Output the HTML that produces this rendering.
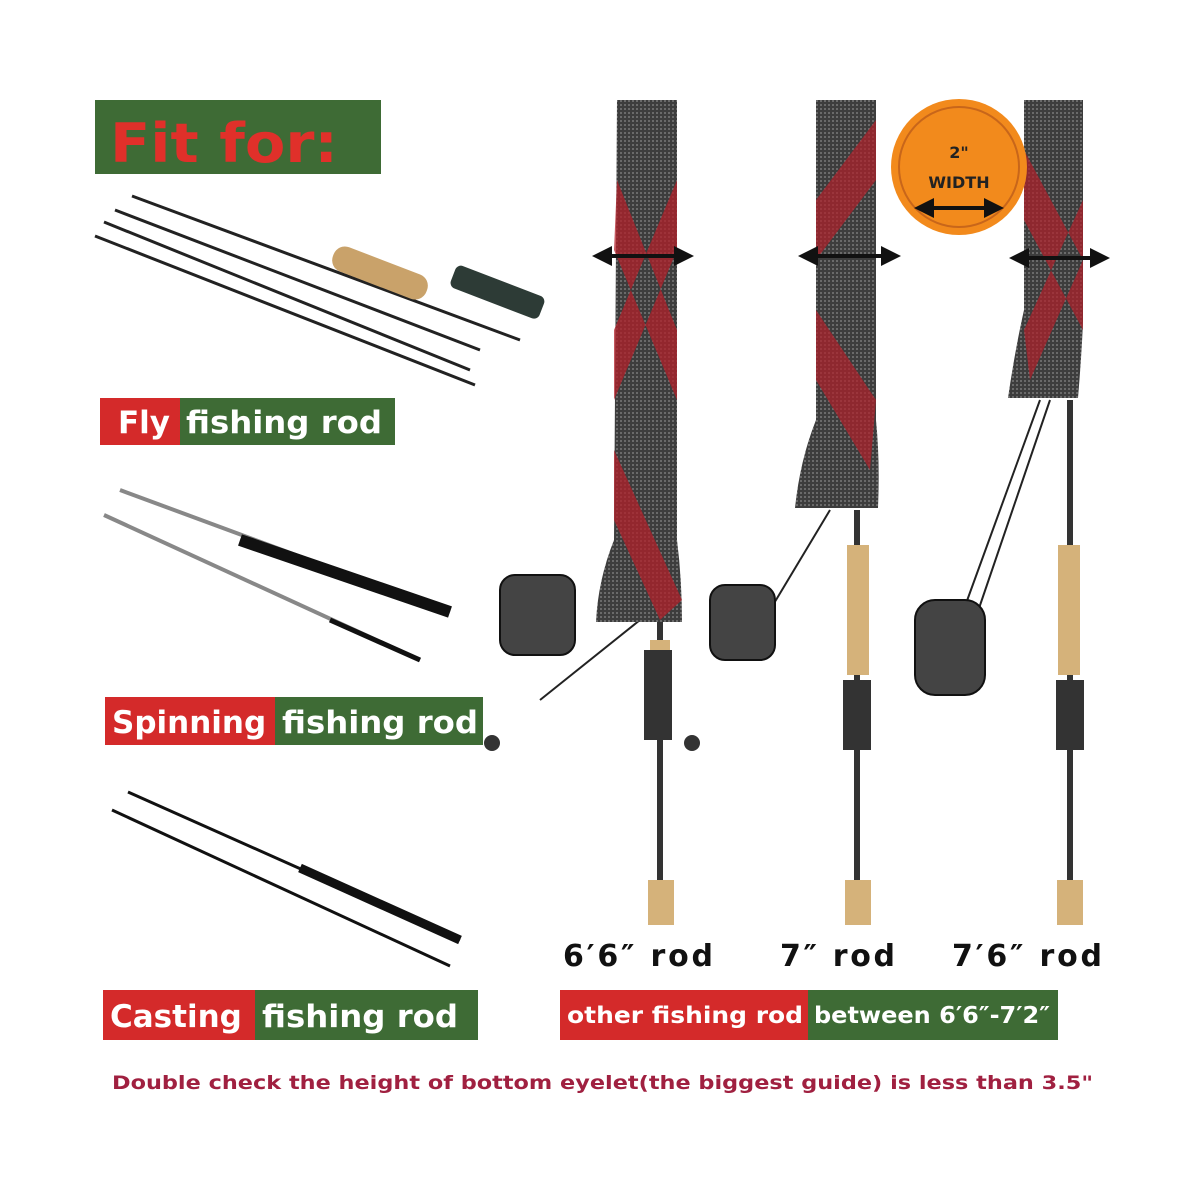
<!DOCTYPE html>
<html><head><meta charset="utf-8"><style>
html,body{margin:0;padding:0;background:#fff}
svg{display:block}
text{font-family:"DejaVu Sans","Liberation Sans",sans-serif;font-weight:bold}
</style></head><body>
<svg width="1200" height="1200" viewBox="0 0 1200 1200" xmlns="http://www.w3.org/2000/svg">
<defs>
<pattern id="knit" width="4" height="4" patternUnits="userSpaceOnUse"><rect width="4" height="4" fill="#3d3d3d"/><rect width="2" height="2" fill="#6a6a6a"/></pattern>
<marker id="ah" markerWidth="5" markerHeight="5" refX="2.5" refY="2.5" orient="auto-start-reverse"><path d="M0,0 L5,2.5 L0,5 z" fill="#111"/></marker>
</defs>
<rect x="95" y="100" width="286" height="74" fill="#3e6b35"/>
<text x="110" y="162" font-size="54" fill="#e0302a" textLength="228" lengthAdjust="spacingAndGlyphs">Fit for:</text>

<g stroke="#222" stroke-width="3">
<line x1="132" y1="196" x2="520" y2="340"/>
<line x1="115" y1="210" x2="480" y2="350"/>
<line x1="104" y1="222" x2="470" y2="370"/>
<line x1="95" y1="236" x2="475" y2="385"/>
</g>
<rect x="330" y="260" width="100" height="26" rx="12" fill="#c9a26a" transform="rotate(21 380 273)"/>
<rect x="450" y="280" width="95" height="24" rx="6" fill="#2d3b36" transform="rotate(21 497 292)"/>

<rect x="100" y="398" width="80" height="47" fill="#d42a2a"/>
<rect x="180" y="398" width="215" height="47" fill="#3e6b35"/>
<text x="118" y="433" font-size="31" fill="#fff">Fly</text>
<text x="186" y="433" font-size="31" fill="#fff" textLength="196" lengthAdjust="spacingAndGlyphs">fishing rod</text>

<g stroke="#888" stroke-width="4">
<line x1="120" y1="490" x2="450" y2="612"/>
<line x1="104" y1="515" x2="420" y2="660"/>
</g>
<line x1="240" y1="540" x2="450" y2="612" stroke="#111" stroke-width="12"/>
<line x1="330" y1="620" x2="420" y2="660" stroke="#111" stroke-width="5"/>

<rect x="105" y="697" width="170" height="48" fill="#d42a2a"/>
<rect x="275" y="697" width="208" height="48" fill="#3e6b35"/>
<text x="112" y="733" font-size="31" fill="#fff">Spinning</text>
<text x="282" y="733" font-size="31" fill="#fff" textLength="196" lengthAdjust="spacingAndGlyphs">fishing rod</text>

<g stroke="#111" stroke-width="3">
<line x1="128" y1="792" x2="460" y2="940"/>
<line x1="112" y1="810" x2="450" y2="966"/>
</g>
<line x1="300" y1="868" x2="460" y2="940" stroke="#111" stroke-width="9"/>

<rect x="103" y="990" width="152" height="50" fill="#d42a2a"/>
<rect x="255" y="990" width="223" height="50" fill="#3e6b35"/>
<text x="110" y="1027" font-size="31" fill="#fff">Casting</text>
<text x="262" y="1027" font-size="31" fill="#fff" textLength="196" lengthAdjust="spacingAndGlyphs">fishing rod</text>

<g stroke="#333" stroke-width="6">
<line x1="660" y1="620" x2="660" y2="880"/>
<line x1="857" y1="510" x2="857" y2="880"/>
<line x1="1070" y1="400" x2="1070" y2="880"/>
</g>
<g stroke="#222" stroke-width="2">
<line x1="640" y1="620" x2="540" y2="700"/>
<line x1="830" y1="510" x2="740" y2="660"/>
<line x1="1040" y1="400" x2="960" y2="620"/>
<line x1="1050" y1="400" x2="975" y2="620"/>
</g>
<rect x="650" y="640" width="20" height="40" fill="#d5b27a"/>
<rect x="847" y="545" width="22" height="130" fill="#d5b27a"/>
<rect x="1058" y="545" width="22" height="130" fill="#d5b27a"/>
<rect x="648" y="880" width="26" height="45" fill="#d5b27a"/>
<rect x="845" y="880" width="26" height="45" fill="#d5b27a"/>
<rect x="1057" y="880" width="26" height="45" fill="#d5b27a"/>
<g fill="#444" stroke="#111" stroke-width="2">
<rect x="500" y="575" width="75" height="80" rx="15"/>
<rect x="710" y="585" width="65" height="75" rx="15"/>
<rect x="915" y="600" width="70" height="95" rx="20"/>
</g>
<g fill="#333"><rect x="644" y="650" width="28" height="90"/><rect x="843" y="680" width="28" height="70"/><rect x="1056" y="680" width="28" height="70"/></g>
<circle cx="492" cy="743" r="8" fill="#333"/><circle cx="692" cy="743" r="8" fill="#333"/>

<path d="M617,100 L677,100 L677,540 Q682,580 682,622 L596,622 Q598,580 614,540 Z" fill="url(#knit)"/>
<path d="M617,180 L677,330 L677,400 L614,250 Z M677,180 L614,330 L614,400 L677,250Z" fill="#b0202a" opacity=".75"/>
<path d="M614,450 L682,600 L660,620 L614,520 Z" fill="#b0202a" opacity=".75"/>
<path d="M816,100 L876,100 L876,420 Q880,460 878,508 L795,508 Q800,460 816,420 Z" fill="url(#knit)"/>
<path d="M816,200 L876,120 L876,180 L816,260 Z M816,310 L876,400 L870,470 L816,380 Z" fill="#b0202a" opacity=".7"/>
<path d="M1024,100 L1083,100 L1083,320 Q1082,350 1078,398 L1008,398 Q1015,350 1024,310 Z" fill="url(#knit)"/>
<path d="M1024,150 L1083,260 L1083,330 L1024,220 Z M1083,200 L1024,330 L1030,380 L1083,260Z" fill="#b0202a" opacity=".7"/>

<g stroke="#111" stroke-width="4" marker-start="url(#ah)" marker-end="url(#ah)">
<line x1="602" y1="256" x2="684" y2="256"/>
<line x1="808" y1="256" x2="891" y2="256"/>
<line x1="1019" y1="258" x2="1100" y2="258"/>
</g>
<circle cx="959" cy="167" r="68" fill="#f28a1c"/>
<circle cx="959" cy="167" r="60" fill="none" stroke="#c8661a" stroke-width="2"/>
<text x="959" y="158" font-size="16" text-anchor="middle" fill="#222">2"</text>
<text x="959" y="188" font-size="16" text-anchor="middle" fill="#222">WIDTH</text>
<line x1="924" y1="208" x2="994" y2="208" stroke="#111" stroke-width="4" marker-start="url(#ah)" marker-end="url(#ah)"/>

<text x="563" y="966" font-size="30" fill="#111" textLength="150" lengthAdjust="spacing">6′6″ rod</text>
<text x="780" y="966" font-size="30" fill="#111" textLength="115" lengthAdjust="spacing">7″ rod</text>
<text x="952" y="966" font-size="30" fill="#111" textLength="150" lengthAdjust="spacing">7′6″ rod</text>

<rect x="560" y="990" width="248" height="50" fill="#d42a2a"/>
<rect x="808" y="990" width="250" height="50" fill="#3e6b35"/>
<text x="567" y="1023" font-size="23" fill="#fff" textLength="236" lengthAdjust="spacingAndGlyphs">other fishing rod</text>
<text x="814" y="1023" font-size="23" fill="#fff" textLength="236" lengthAdjust="spacingAndGlyphs">between 6′6″-7′2″</text>

<text x="112" y="1089" font-size="19" fill="#a02040" textLength="981" lengthAdjust="spacingAndGlyphs">Double check the height of bottom eyelet(the biggest guide) is less than 3.5"</text>
</svg>
</body></html>
